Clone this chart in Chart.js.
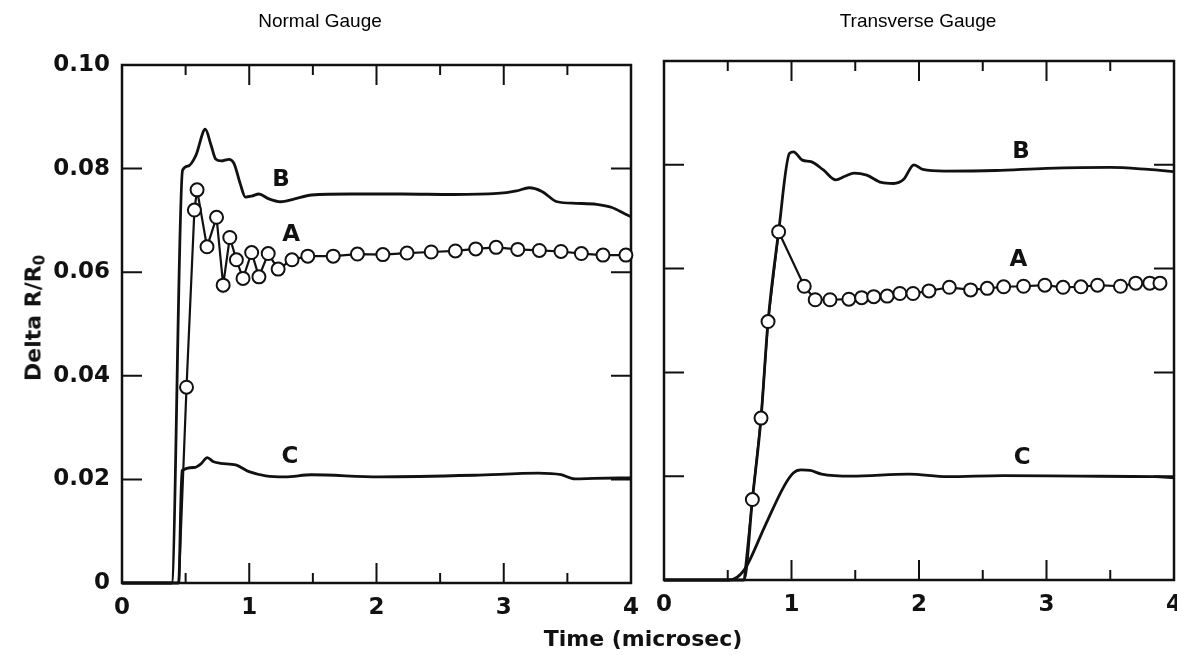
<!DOCTYPE html>
<html>
<head>
<meta charset="utf-8">
<style>
  html, body { margin: 0; padding: 0; background: #fff; overflow: hidden; width: 1177px; height: 656px; }
  .panel { position: absolute; top: 0; height: 656px; }
  #leftBox { left: 0; width: 650px; }
  #rightBox { left: 645px; width: 555px; }
  .txt { position: absolute; color: #000; white-space: nowrap; transform: translate(-50%, -50%); }
  .ttl { font: 19px "Liberation Sans", Arial, sans-serif; }
  .axt { font: bold 22px "DejaVu Sans", sans-serif; color: #111; }
  #yTitle { transform: translate(-50%, -50%) rotate(-90deg); }
  #yTitle sub { font-size: 15px; vertical-align: -4px; line-height: 0; }
</style>
<script src="https://cdn.jsdelivr.net/npm/chart.js"></script>
</head>
<body>
<div id="leftBox" class="panel"><canvas id="normalChart"></canvas></div>
<div id="rightBox" class="panel"><canvas id="transverseChart"></canvas></div>

<div class="txt ttl" style="left:320px; top:21px;">Normal Gauge</div>
<div class="txt ttl" style="left:918px; top:21px;">Transverse Gauge</div>
<div class="txt axt" style="left:643px; top:638px;">Time (microsec)</div>
<div class="txt axt" id="yTitle" style="left:33px; top:318px;">Delta R/R<sub>0</sub></div>

<script>
  // ---- data (time in microsec, Delta R/R0) ----

  // Normal gauge
  const normalA_t = [0, 0.447, 0.507, 0.569, 0.590, 0.668, 0.743, 0.795, 0.847, 0.899, 0.951, 1.019, 1.076, 1.149, 1.227, 1.336, 1.46, 1.66, 1.85, 2.05, 2.24, 2.43, 2.62, 2.78, 2.94, 3.11, 3.28, 3.45, 3.61, 3.78, 3.96];
  const normalA_v = [0, 0, 0.0378, 0.0720, 0.0759, 0.0649, 0.0706, 0.0575, 0.0667, 0.0624, 0.0588, 0.0638, 0.0591, 0.0636, 0.0606, 0.0624, 0.0631, 0.0631, 0.0635, 0.0634, 0.0637, 0.0639, 0.0641, 0.0645, 0.0648, 0.0644, 0.0642, 0.0640, 0.0636, 0.0633, 0.0633];

  const normalB_t = [0, 0.39, 0.476, 0.52, 0.58, 0.655, 0.70, 0.738, 0.78, 0.84, 0.88, 0.93, 0.97, 1.02, 1.076, 1.15, 1.245, 1.35, 1.49, 1.8, 2.2, 2.6, 2.95, 3.1, 3.2, 3.3, 3.42, 3.57, 3.73, 3.85, 3.95, 4.0];
  const normalB_v = [0, 0, 0.0797, 0.0805, 0.0825, 0.0876, 0.0845, 0.0818, 0.0815, 0.0818, 0.0810, 0.0770, 0.0745, 0.0747, 0.0751, 0.0742, 0.0736, 0.0741, 0.0749, 0.0751, 0.0751, 0.0750, 0.0752, 0.0757, 0.0763, 0.0756, 0.0736, 0.0733, 0.0731, 0.0725, 0.0713, 0.0707];

  const normalC_t = [0, 0.445, 0.471, 0.567, 0.62, 0.67, 0.72, 0.775, 0.894, 0.998, 1.13, 1.28, 1.49, 2.02, 2.77, 3.27, 3.45, 3.56, 3.71, 4.0];
  const normalC_v = [0, 0, 0.0217, 0.0223, 0.0230, 0.0242, 0.0234, 0.0231, 0.0228, 0.0215, 0.0207, 0.0205, 0.0209, 0.0205, 0.0208, 0.0212, 0.0209, 0.0201, 0.0202, 0.0203];

  // Transverse gauge
  const transA_t = [0, 0.628, 0.693, 0.761, 0.816, 0.899, 1.10, 1.186, 1.302, 1.45, 1.55, 1.645, 1.75, 1.85, 1.953, 2.078, 2.238, 2.405, 2.535, 2.664, 2.82, 2.987, 3.13, 3.27, 3.40, 3.58, 3.70, 3.81, 3.89];
  const transA_v = [0, 0, 0.0155, 0.0312, 0.0498, 0.0671, 0.0566, 0.0540, 0.0540, 0.0541, 0.0544, 0.0546, 0.0547, 0.0552, 0.0552, 0.0557, 0.0564, 0.0559, 0.0562, 0.0565, 0.0566, 0.0568, 0.0564, 0.0565, 0.0568, 0.0566, 0.0572, 0.0572, 0.0572];

  const transB_t = [0, 0.628, 0.693, 0.761, 0.816, 0.899, 0.984, 1.016, 1.085, 1.153, 1.25, 1.347, 1.42, 1.49, 1.59, 1.705, 1.8, 1.88, 1.96, 2.03, 2.2, 2.6, 3.0, 3.5, 3.8, 4.0];
  const transB_v = [0, 0, 0.0155, 0.0312, 0.0498, 0.0671, 0.0822, 0.0825, 0.0809, 0.0806, 0.0790, 0.0771, 0.0778, 0.0784, 0.0780, 0.0766, 0.0764, 0.0772, 0.0800, 0.0791, 0.0788, 0.0789, 0.0793, 0.0795, 0.0791, 0.0787];

  const transC_t = [0, 0.51, 0.628, 0.79, 0.94, 1.014, 1.074, 1.147, 1.236, 1.47, 1.92, 2.22, 2.66, 3.26, 3.85, 4.0];
  const transC_v = [0, 0, 0.0019, 0.0103, 0.0180, 0.0206, 0.0212, 0.0211, 0.0204, 0.0200, 0.0204, 0.0199, 0.0201, 0.0200, 0.0199, 0.0197];

  // curve labels written inside the panels
  const curveNames = ['A', 'B', 'C'];
  const normalLabel_t = [1.33, 1.25, 1.32];
  const normalLabel_v = [0.0672, 0.0778, 0.0243];
  const transLabel_t = [2.78, 2.80, 2.81];
  const transLabel_v = [0.0617, 0.0825, 0.0235];

  // axis ticks
  const xTickLabels = ['0', '1', '2', '3', '4'];
  const yTickValues = [0.02, 0.04, 0.06, 0.08];
  const xMajorTicks = [1, 2, 3];
  const xMinorTicks = [0.5, 1.5, 2.5, 3.5];

  const INK = '#111';
  const tickFont = { family: 'DejaVu Sans', size: 23, weight: 'bold' };

  const pts = (ts, vs) => ts.map((t, i) => ({ x: t, y: vs[i] }));

  // frame, inward ticks and curve letters
  const frameTicks = {
    id: 'frameTicks',
    beforeDatasetsDraw(chart) {
      const { ctx, chartArea: a, scales: { x, y } } = chart;
      ctx.save();
      ctx.strokeStyle = INK;
      ctx.lineWidth = 2.5;
      ctx.strokeRect(a.left, a.top, a.right - a.left, a.bottom - a.top);
      ctx.lineWidth = 2;
      ctx.beginPath();
      yTickValues.forEach(v => {
        const py = y.getPixelForValue(v);
        ctx.moveTo(a.left, py); ctx.lineTo(a.left + 20, py);
        ctx.moveTo(a.right, py); ctx.lineTo(a.right - 20, py);
      });
      const xt = (v, len) => {
        const px = x.getPixelForValue(v);
        ctx.moveTo(px, a.bottom); ctx.lineTo(px, a.bottom - len);
        ctx.moveTo(px, a.top); ctx.lineTo(px, a.top + len);
      };
      xMajorTicks.forEach(v => xt(v, 20));
      xMinorTicks.forEach(v => xt(v, 10));
      ctx.stroke();
      ctx.restore();
    },
    afterDatasetsDraw(chart, args, opts) {
      const { ctx, scales: { x, y } } = chart;
      ctx.save();
      ctx.fillStyle = INK;
      ctx.font = 'bold 23px "DejaVu Sans"';
      ctx.textAlign = 'center';
      ctx.textBaseline = 'middle';
      curveNames.forEach((n, i) => {
        ctx.fillText(n, x.getPixelForValue(opts.t[i]), y.getPixelForValue(opts.v[i]));
      });
      ctx.restore();
    }
  };

  function makeChart(id, dataA, dataB, dataC, lt, lv, opt) {
    const lineStyle = { borderColor: INK, borderWidth: 2.8, pointRadius: 0, fill: false, cubicInterpolationMode: 'monotone', clip: false };
    new Chart(document.getElementById(id), {
      type: 'line',
      data: {
        datasets: [
          {
            label: 'A', data: dataA, borderColor: INK, borderWidth: 2.2, tension: 0,
            pointRadius: c => (c.raw && c.raw.y > 0 ? 6.5 : 0),
            pointBackgroundColor: '#fff', pointBorderColor: INK, pointBorderWidth: 2,
            fill: false, clip: false
          },
          Object.assign({ label: 'B', data: dataB }, lineStyle),
          Object.assign({ label: 'C', data: dataC }, lineStyle)
        ]
      },
      options: {
        responsive: true,
        maintainAspectRatio: false,
        animation: false,
        events: [],
        layout: { padding: opt.padding },
        plugins: {
          legend: { display: false },
          tooltip: { enabled: false },
          frameTicks: { t: lt, v: lv }
        },
        scales: {
          x: {
            type: 'linear', min: 0, max: 4,
            border: { display: false },
            grid: { display: false, drawTicks: false },
            ticks: { stepSize: 1, padding: 11, color: INK, font: tickFont, maxRotation: 0,
                     callback: v => xTickLabels[v] },
            afterFit: s => { s.height = opt.xHeight; }
          },
          y: {
            min: 0, max: 0.1,
            display: opt.showY,
            border: { display: false },
            grid: { display: false, drawTicks: false },
            ticks: { stepSize: 0.02, padding: 12, color: INK, font: tickFont,
                     callback: v => (v === 0 ? '0' : v.toFixed(2)) },
            afterFit: s => { s.width = opt.yWidth; }
          }
        }
      },
      plugins: [frameTicks]
    });
  }

  makeChart('normalChart',
    pts(normalA_t, normalA_v), pts(normalB_t, normalB_v), pts(normalC_t, normalC_v),
    normalLabel_t, normalLabel_v,
    { padding: { top: 65, right: 15, left: 0, bottom: 0 }, xHeight: 73, yWidth: 122, showY: true });

  makeChart('transverseChart',
    pts(transA_t, transA_v), pts(transB_t, transB_v), pts(transC_t, transC_v),
    transLabel_t, transLabel_v,
    { padding: { top: 61, right: 26, left: 13, bottom: 0 }, xHeight: 76, yWidth: 0, showY: false });
</script>
</body>
</html>
